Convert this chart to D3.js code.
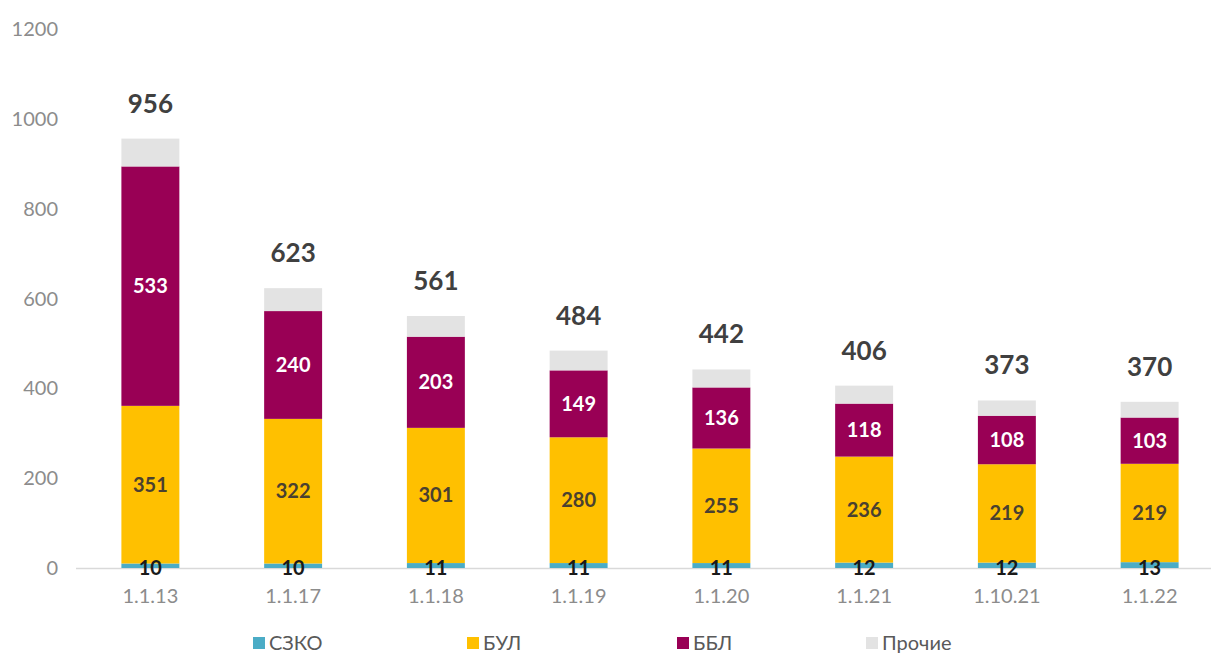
<!DOCTYPE html>
<html>
<head>
<meta charset="utf-8">
<script src="https://cdn.jsdelivr.net/npm/d3@7"></script>
<style>
  html, body { margin: 0; padding: 0; background: #fff; }
  svg { display: block; font-family: Lato, "Open Sans", sans-serif; }
</style>
</head>
<body>
<svg id="chart" width="1211" height="656"></svg>
<script>
// Dates of each observation
const categories = ["1.1.13", "1.1.17", "1.1.18", "1.1.19", "1.1.20", "1.1.21", "1.10.21", "1.1.22"];
// Stacked series, bottom to top
const szko   = [10, 10, 11, 11, 11, 12, 12, 13];
const bul    = [351, 322, 301, 280, 255, 236, 219, 219];
const bbl    = [533, 240, 203, 149, 136, 118, 108, 103];
const other  = [62, 51, 46, 44, 40, 40, 34, 35];
const seriesNames = ["СЗКО", "БУЛ", "ББЛ", "Прочие"];
const yTicks = [0, 200, 400, 600, 800, 1000, 1200];

const colors = { "СЗКО": "#4BACC6", "БУЛ": "#FFC000", "ББЛ": "#990055", "Прочие": "#E3E3E3" };
const labelColors = { "СЗКО": "#1a1a1a", "БУЛ": "#4a4030", "ББЛ": "#ffffff" };

const rows = categories.map((c, i) => ({
  cat: c, "СЗКО": szko[i], "БУЛ": bul[i], "ББЛ": bbl[i], "Прочие": other[i]
}));

const svg = d3.select("#chart");
const x = d3.scaleBand().domain(categories).range([79, 1221]).paddingInner(0.594).paddingOuter(0.297);
const y = d3.scaleLinear().domain([0, 1200]).range([568, 29]);

// Y tick labels (no axis line)
svg.append("g").selectAll("text").data(yTicks).join("text")
  .attr("x", 58).attr("y", d => y(d)).attr("dy", "0.35em")
  .attr("text-anchor", "end").attr("fill", "#8c8c8c").attr("font-size", 20)
  .text(d => d);

// Baseline
svg.append("line").attr("x1", 76).attr("x2", 1211).attr("y1", y(0) + 0.5).attr("y2", y(0) + 0.5)
  .attr("stroke", "#D9D9D9").attr("stroke-width", 1.5);

const stack = d3.stack().keys(seriesNames)(rows);

const layers = svg.append("g").selectAll("g").data(stack).join("g")
  .attr("fill", d => colors[d.key]);
layers.selectAll("rect").data(d => d).join("rect")
  .attr("x", d => x(d.data.cat)).attr("width", x.bandwidth())
  .attr("y", d => y(d[1])).attr("height", d => y(d[0]) - y(d[1]));

// Segment value labels
stack.filter(s => s.key !== "Прочие").forEach(s => {
  svg.append("g").selectAll("text").data(s).join("text")
    .attr("x", d => x(d.data.cat) + x.bandwidth() / 2)
    .attr("y", d => s.key === "СЗКО" ? y(0) : (y(d[0]) + y(d[1])) / 2)
    .attr("dy", "0.35em").attr("text-anchor", "middle")
    .attr("font-size", 20).attr("font-weight", 700)
    .attr("fill", labelColors[s.key])
    .text(d => d[1] - d[0]);
});

// Totals above bars
const topLayer = stack[stack.length - 1];
svg.append("g").selectAll("text").data(topLayer).join("text")
  .attr("x", d => x(d.data.cat) + x.bandwidth() / 2)
  .attr("y", d => y(d[1]) - 26)
  .attr("text-anchor", "middle").attr("font-size", 26).attr("font-weight", 700)
  .attr("fill", "#404040")
  .text(d => d[1]);

// X tick labels
svg.append("g").selectAll("text").data(categories).join("text")
  .attr("x", d => x(d) + x.bandwidth() / 2).attr("y", 596).attr("dy", "0.35em")
  .attr("text-anchor", "middle").attr("fill", "#8c8c8c").attr("font-size", 20)
  .text(d => d);

// Legend
const legendX = [253, 467, 677, 866];
const legend = svg.append("g").selectAll("g").data(seriesNames).join("g")
  .attr("transform", (d, i) => `translate(${legendX[i]},643)`);
legend.append("rect").attr("x", 0).attr("y", -6).attr("width", 12).attr("height", 12)
  .attr("fill", d => colors[d]);
legend.append("text").attr("x", 16).attr("y", 0).attr("dy", "0.35em")
  .attr("fill", "#595959").attr("font-size", 20).text(d => d);
</script>
</body>
</html>
